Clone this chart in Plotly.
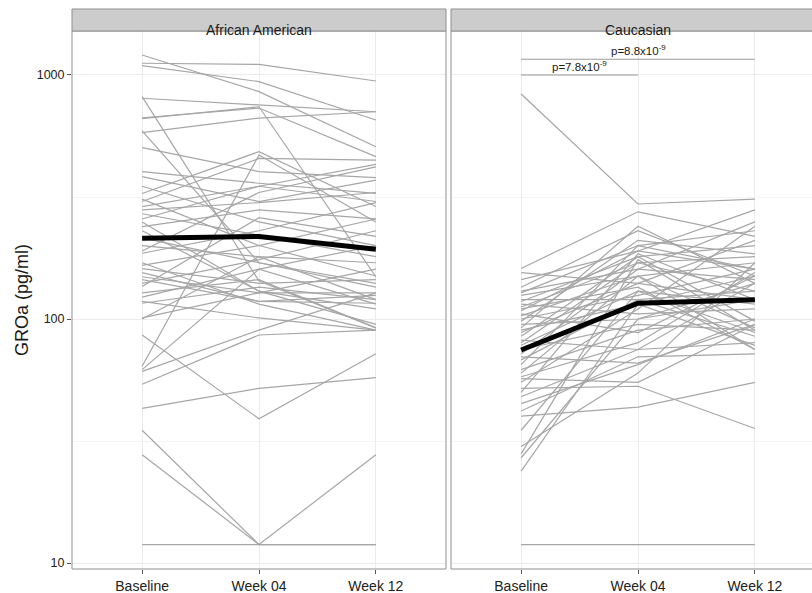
import math
import plotly.graph_objects as go

# ---------------- data ----------------
timepoints = ["Baseline", "Week 04", "Week 12"]
panels = ["African American", "Caucasian"]

aa_baseline = [1208, 1117, 1092, 803, 815, 668, 662, 580, 504, 327, 303, 402, 383, 289, 257,
               239, 186, 166, 161, 149, 136, 123, 145, 128, 118, 116, 101, 86, 61, 54,
               64, 62, 43, 35, 27.8, 11.9, 215, 270, 310, 190, 230, 350, 280, 200, 140,
               155, 250, 170, 100, 590]
aa_week04 = [855, 1106, 939, 753, 143, 732, 741, 666, 402, 485, 455, 360, 303, 350, 350,
             280, 230, 200, 140, 128, 260, 160, 118, 145, 101, 135, 128, 39, 90, 86,
             470, 160, 52, 11.9, 11.9, 11.9, 170, 220, 200, 330, 130, 250, 300, 180, 175,
             118, 130, 115, 180, 170]
aa_week12 = [508, 945, 654, 707, 92, 463, 149, 707, 380, 289, 448, 327, 371, 303, 430,
             257, 300, 257, 145, 128, 218, 200, 116, 92, 90, 120, 160, 72, 128, 90,
             250, 115, 57.5, 27.8, 11.9, 11.9, 140, 180, 150, 420, 110, 200, 330, 170, 230,
             125, 95, 90, 120, 135]

cau_baseline = [836, 161, 11.9, 23.8, 27, 28, 30, 40, 52, 45, 48, 50, 55, 57, 60, 62, 65, 68,
                70, 72, 75, 78, 80, 82, 85, 88, 90, 92, 95, 98, 100, 103, 105, 108, 110, 112,
                115, 118, 120, 125, 128, 130, 135, 145, 155, 58, 42, 35]
cau_week04 = [296, 275, 11.9, 115, 100, 175, 60, 43.5, 53, 65, 75, 185, 110, 55, 150, 90, 200,
              120, 66, 160, 95, 130, 170, 75, 180, 140, 115, 240, 100, 210, 125, 150, 88, 190,
              135, 170, 105, 180, 120, 150, 200, 160, 230, 190, 140, 80, 70, 130]
cau_week12 = [310, 218, 11.9, 150, 140, 90, 170, 55, 35.6, 100, 80, 120, 240, 95, 75, 100, 160,
              130, 95, 250, 90, 115, 180, 140, 98, 210, 78, 140, 120, 185, 160, 92, 150, 280,
              75, 130, 110, 200, 85, 170, 230, 145, 150, 160, 120, 155, 72, 88]

aa_mean = [214, 218, 193]
cau_mean = [74.6, 116, 120]

# significance brackets in the Caucasian panel: (from, to, level, label)
comparisons = [
    ("Baseline", "Week 04", 1000, "p=7.8x10<sup>-9</sup>"),
    ("Baseline", "Week 12", 1160, "p=8.8x10<sup>-9</sup>"),
]

# ---------------- styling ----------------
W, H = 812, 593
ML, MR, MT, MB = 72, 0, 31, 24
plot_w = W - ML - MR
plot_h = H - MT - MB
panel_px = 374
gap_px = 5
cat_px = panel_px / 3.2
FONT = "Liberation Sans, Arial, sans-serif"
GREY_LINE = "#a6a6a6"
BORDER = "#8f8f8f"
GRID = "#ececec"

fig = go.Figure()

series = {
    "African American": (aa_baseline, aa_week04, aa_week12, aa_mean, "x", "y"),
    "Caucasian": (cau_baseline, cau_week04, cau_week12, cau_mean, "x2", "y2"),
}

for name in panels:
    b, w4, w12, m, xa, ya = series[name]
    for v0, v1, v2 in zip(b, w4, w12):
        fig.add_trace(go.Scatter(x=timepoints, y=[v0, v1, v2], mode="lines",
                                 line=dict(color=GREY_LINE, width=1.2),
                                 xaxis=xa, yaxis=ya, showlegend=False, hoverinfo="skip"))
    fig.add_trace(go.Scatter(x=timepoints, y=m, mode="lines",
                             line=dict(color="black", width=5),
                             xaxis=xa, yaxis=ya, showlegend=False))

# brackets
annotations = []
for a, bcat, level, label in comparisons:
    fig.add_trace(go.Scatter(x=[a, bcat], y=[level, level], mode="lines",
                             line=dict(color="#9a9a9a", width=1.2),
                             xaxis="x2", yaxis="y2", showlegend=False, hoverinfo="skip"))
    mid = (timepoints.index(a) + timepoints.index(bcat)) / 2
    annotations.append(dict(x=mid, y=math.log10(level), xref="x2", yref="y2",
                            text=label, showarrow=False, yanchor="bottom", yshift=0,
                            font=dict(size=11.5, color="#1a1a1a", family=FONT)))

ylo = 0.9754
yhi = 3.1803

dom1 = [0, panel_px / plot_w]
dom2 = [(panel_px + gap_px) / plot_w, 1]
x2_units = (dom2[1] - dom2[0]) * plot_w / cat_px

xcommon = dict(type="category", categoryorder="array", categoryarray=timepoints,
               showgrid=True, gridcolor=GRID, gridwidth=1, zeroline=False, showline=False,
               ticks="outside", ticklen=4, tickcolor="#555", tickwidth=1,
               tickfont=dict(size=14, color="#222", family=FONT))

fig.update_layout(
    width=W, height=H,
    margin=dict(l=ML, r=MR, t=MT, b=MB, autoexpand=False),
    paper_bgcolor="white", plot_bgcolor="white",
    xaxis=dict(domain=dom1, range=[-0.6, 2.6], anchor="y", **xcommon),
    xaxis2=dict(domain=dom2, range=[-0.6, -0.6 + x2_units], anchor="y2", **xcommon),
    yaxis=dict(type="log", range=[ylo, yhi], domain=[0, 1], anchor="x",
               tickmode="array", tickvals=[10, 100, 1000], ticktext=["10", "100", "1000"],
               ticks="outside", ticklen=4, tickcolor="#555",
               tickfont=dict(size=12.5, color="#222", family=FONT),
               showgrid=True, gridcolor=GRID, zeroline=False, showline=False,
               minor=dict(tickvals=[31.62, 316.2], showgrid=True, gridcolor="#f4f4f4", ticks="")),
    yaxis2=dict(type="log", range=[ylo, yhi], domain=[0, 1], anchor="x2", matches="y",
                tickmode="array", tickvals=[10, 100, 1000], showticklabels=False, ticks="",
                showgrid=True, gridcolor=GRID, zeroline=False, showline=False,
                minor=dict(tickvals=[31.62, 316.2], showgrid=True, gridcolor="#f4f4f4", ticks="")),
)

strip_h = 22 / plot_h
shapes = []
for xd, yd, x1 in (("x domain", "y domain", 1), ("x2 domain", "y2 domain", 1.1)):
    shapes.append(dict(type="rect", xref=xd, yref=yd, x0=0, x1=x1, y0=0, y1=1,
                       line=dict(color=BORDER, width=1), fillcolor="rgba(0,0,0,0)", layer="above"))
    shapes.append(dict(type="rect", xref=xd, yref="paper", x0=0, x1=x1, y0=1, y1=1 + strip_h,
                       line=dict(color=BORDER, width=1), fillcolor="#cccccc", layer="above"))
fig.update_layout(shapes=shapes)

center = (len(timepoints) - 1) / 2
annotations.append(dict(x=center, xref="x", y=1 + strip_h / 2, yref="paper", text=panels[0],
                        showarrow=False, font=dict(size=14, color="#1a1a1a", family=FONT)))
annotations.append(dict(x=center, xref="x2", y=1 + strip_h / 2, yref="paper", text=panels[1],
                        showarrow=False, font=dict(size=14, color="#1a1a1a", family=FONT)))
annotations.append(dict(x=(22 - ML) / plot_w, xref="paper", xanchor="center", y=0.5, yref="paper",
                        text="GROa (pg/ml)", textangle=-90, showarrow=False,
                        font=dict(size=18, color="#1a1a1a", family=FONT)))
fig.update_layout(annotations=annotations)

fig.write_html("out.html", config={"displayModeBar": False},
               post_script="document.body.style.margin='0px';document.body.style.overflow='hidden';")
